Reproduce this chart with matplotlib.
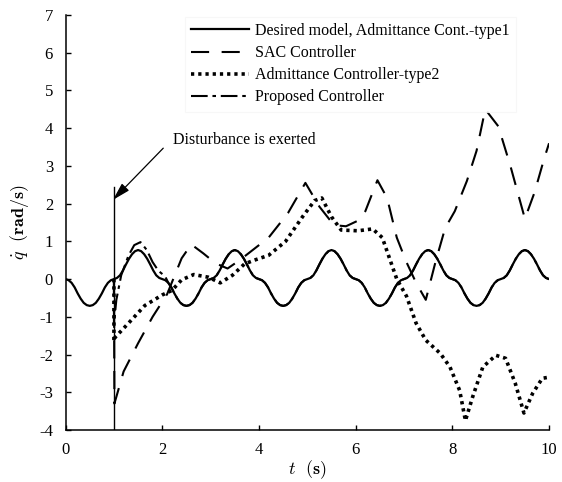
import numpy as np
import matplotlib
matplotlib.use("Agg")
import matplotlib.pyplot as plt

plt.rcParams['font.family'] = ['Liberation Serif', 'DejaVu Serif']
plt.rcParams['mathtext.fontset'] = 'cm'
plt.rcParams['axes.unicode_minus'] = False

###### Data ####################################################################
# desired model (also Admittance type1), sampled every 0.0625 s
t_des = np.linspace(0, 10, 161)
q_des = [0, -0.03, -0.10, -0.22, -0.38, -0.52, -0.63, -0.69,
         -0.71, -0.69, -0.63, -0.52, -0.38, -0.22, -0.10, -0.03,
         0, 0.03, 0.10, 0.23, 0.39, 0.54, 0.66, 0.74,
         0.77, 0.74, 0.66, 0.54, 0.39, 0.23, 0.10, 0.03,
         0, -0.03, -0.10, -0.22, -0.38, -0.52, -0.63, -0.69,
         -0.71, -0.69, -0.63, -0.52, -0.38, -0.22, -0.10, -0.03,
         0, 0.03, 0.10, 0.23, 0.39, 0.54, 0.66, 0.74,
         0.77, 0.74, 0.66, 0.54, 0.39, 0.23, 0.10, 0.03,
         0, -0.03, -0.10, -0.22, -0.38, -0.52, -0.63, -0.69,
         -0.71, -0.69, -0.63, -0.52, -0.38, -0.22, -0.10, -0.03,
         0, 0.03, 0.10, 0.23, 0.39, 0.54, 0.66, 0.74,
         0.77, 0.74, 0.66, 0.54, 0.39, 0.23, 0.10, 0.03,
         0, -0.03, -0.10, -0.22, -0.38, -0.52, -0.63, -0.69,
         -0.71, -0.69, -0.63, -0.52, -0.38, -0.22, -0.10, -0.03,
         0, 0.03, 0.10, 0.23, 0.39, 0.54, 0.66, 0.74,
         0.77, 0.74, 0.66, 0.54, 0.39, 0.23, 0.10, 0.03,
         0, -0.03, -0.10, -0.22, -0.38, -0.52, -0.63, -0.69,
         -0.71, -0.69, -0.63, -0.52, -0.38, -0.22, -0.10, -0.03,
         0, 0.03, 0.10, 0.23, 0.39, 0.54, 0.66, 0.74,
         0.77, 0.74, 0.66, 0.54, 0.39, 0.23, 0.10, 0.03,
         0]

# SAC controller
t_sac = [1.0, 1.01, 1.2, 1.5, 1.8, 2.1, 2.4, 2.6, 2.85, 3.1, 3.35, 3.6, 3.9,
         4.2, 4.6, 4.96, 5.25, 5.55, 5.8, 6.05, 6.2, 6.45, 6.65, 6.85, 7.05,
         7.25, 7.45, 7.65, 7.85, 8.05, 8.3, 8.5, 8.68, 8.95, 9.2, 9.5, 9.7,
         9.9, 10.0]
q_sac = [0, -3.3, -2.45, -1.7, -1.0, -0.4, 0.55, 0.92, 0.68, 0.42, 0.28, 0.5,
         0.8, 1.1, 1.75, 2.55, 1.92, 1.43, 1.4, 1.55, 1.8, 2.62, 2.15, 1.1,
         0.45, -0.1, -0.55, 0.45, 1.35, 1.8, 2.6, 3.4, 4.5, 4.05, 3.0, 1.6,
         2.3, 3.2, 3.6]

# Admittance controller type2
t_adm = [1.0, 1.0, 1.02, 1.3, 1.64, 2.0, 2.2, 2.4, 2.65, 2.95, 3.2, 3.45,
         3.7, 3.9, 4.2, 4.55, 4.9, 5.15, 5.3, 5.5, 5.7, 6.05, 6.35, 6.55,
         6.7, 6.85, 7.05, 7.25, 7.45, 7.75, 7.95, 8.15, 8.27, 8.42, 8.63,
         8.9, 9.1, 9.3, 9.48, 9.66, 9.86, 10.0]
q_adm = [0, -1.65, -1.55, -1.17, -0.7, -0.42, -0.3, -0.02, 0.12, 0.05, -0.1,
         0.1, 0.4, 0.5, 0.63, 1.0, 1.65, 2.08, 2.15, 1.65, 1.3, 1.28, 1.33,
         1.1, 0.55, 0.0, -0.45, -1.17, -1.62, -1.97, -2.33, -2.95, -3.75,
         -3.12, -2.33, -2.02, -2.1, -2.76, -3.55, -3.03, -2.63, -2.6]

# Proposed controller: transient after the disturbance, then on the desired curve
t_prop_early = [1.0, 1.0, 1.05, 1.15, 1.3, 1.42, 1.55, 1.68, 1.8, 1.92, 2.06]
q_prop_early = [0, -1.2, -0.55, 0.1, 0.62, 0.9, 0.98, 0.77, 0.45, 0.22, 0.07]
keep = t_des > 2.1
t_prop = np.concatenate([t_prop_early, t_des[keep]])
q_prop = np.concatenate([q_prop_early, np.array(q_des)[keep]])

t_dist = 1.0
dist_line = [-4, 2.45]

labels = ['Desired model, Admittance Cont.-type1', 'SAC Controller',
          'Admittance Controller-type2', 'Proposed Controller']

###### Plot ####################################################################
fig = plt.figure(figsize=(5.62, 4.82), dpi=100)
ax = fig.add_axes([0.1167, 0.1079, 0.8603, 0.861])

ax.plot(t_des, q_des, color='black', lw=1.6, zorder=4, label=labels[0])
ax.plot(t_sac, q_sac, color='black', lw=1.5, dashes=(8.7, 6.0), zorder=3,
        label=labels[1])
ax.plot(t_adm, q_adm, color='black', lw=2.6, dashes=(0.9, 1.1), zorder=3,
        label=labels[2])
ax.plot(t_prop, q_prop, color='black', lw=1.5, dashes=(8, 2.3, 1.7, 2.3),
        zorder=2, label=labels[3])

ax.plot([t_dist, t_dist], dist_line, color='black', lw=1.0, zorder=5)
ax.annotate('', xy=(0.98, 2.1), xytext=(2.02, 3.47),
            arrowprops=dict(arrowstyle='-|>,head_length=0.9,head_width=0.25',
                            color='black', lw=0.9, shrinkA=0, shrinkB=0,
                            mutation_scale=12))
ax.text(2.22, 3.69, 'Disturbance is exerted', fontsize=11.5,
        ha='left', va='center')

ax.set_xlim(0, 10)
ax.set_ylim(-4, 7)
ax.set_xticks([0, 2, 4, 6, 8, 10])
ax.set_yticks(range(-4, 8))
ax.spines['top'].set_visible(False)
ax.spines['right'].set_visible(False)
for s in ['left', 'bottom']:
    ax.spines[s].set_linewidth(1.1)
ax.tick_params(direction='in', length=3.6, width=1.0, labelsize=12)
ax.tick_params(axis='x', pad=9)
ax.tick_params(axis='y', pad=9)

ax.set_xlabel(r'$t\ \ \mathbf{(s)}$', fontsize=13, labelpad=0)
ax.set_ylabel(r'$\dot{q}\ \ \mathbf{(rad/s)}$', fontsize=13, labelpad=6)

leg = fig.legend(loc='upper left', bbox_to_anchor=(0.315, 0.982),
                 fontsize=11.5, handlelength=3.6, handletextpad=0.4,
                 labelspacing=0.38, borderpad=0.4, frameon=True,
                 fancybox=False)
leg.get_frame().set_edgecolor('#f6f6f6')
leg.get_frame().set_linewidth(0.8)

fig.savefig('out.png', dpi=100)
